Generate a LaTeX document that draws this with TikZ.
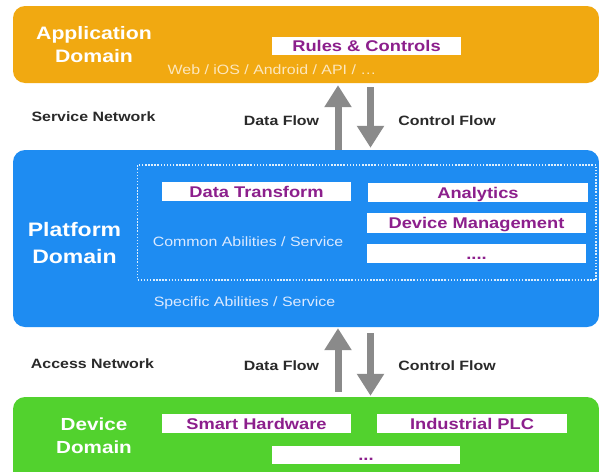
\documentclass[tikz,border=0pt]{standalone}
\usepackage{fontspec}
\setmainfont{Liberation Sans}[FakeStretch=1.18]
\usetikzlibrary{arrows.meta,calc}

\definecolor{apporange}{HTML}{F1A911}
\definecolor{platblue}{HTML}{1E8CF2}
\definecolor{devgreen}{HTML}{52D22E}
\definecolor{itempurple}{HTML}{8C1F8C}
\definecolor{flowgray}{HTML}{8A8A8A}
\definecolor{paleblue}{HTML}{DCEAFF}
\definecolor{palecream}{HTML}{FCE7BE}
\definecolor{labelgray}{HTML}{2A2A2A}

\tikzset{
  bandbox/.style={draw=none, rounded corners=12pt, inner sep=0pt},
  bandlabel/.style={text=white, align=center, inner sep=0pt},
  item/.style={fill=white, inner sep=0pt, text=itempurple,
    font=\bfseries\fontsize{15.5}{18}\selectfont, text height=11pt, text depth=0pt},
  netlabel/.style={anchor=base, text=labelgray, inner sep=0pt,
    font=\bfseries\fontsize{13.5}{16}\selectfont},
  softlabel/.style={anchor=base, inner sep=0pt, font=\fontsize{13.5}{16}\selectfont},
  flow/.style={draw=flowgray, line width=7pt,
    -{Triangle[width=26pt,length=22pt]}},
}

\begin{document}
\begin{tikzpicture}[x=1pt,y=-1pt]
\useasboundingbox (0,0) rectangle (599,471);
\clip (0,0) rectangle (599,471);
\fill[white] (0,0) rectangle (599,471);

% three domain bands
\node[bandbox, fill=apporange, minimum width=586pt, minimum height=77pt] (app) at (306,44.5) {};
\node[bandbox, fill=platblue, minimum width=586pt, minimum height=177pt] (plat) at (306,238.5) {};
\node[bandbox, fill=devgreen, minimum width=586pt, minimum height=86pt] (dev) at (306,440) {};

% application domain
\node[bandlabel, font=\bfseries\fontsize{18}{23}\selectfont] (applbl) at (94,44.5) {Application\\Domain};
\node[item, minimum width=189pt, minimum height=18pt] (rules) at (366.5,46) {Rules \& Controls};
\node[softlabel, text=palecream] (apps) at (272,74) {Web / iOS / Android / API / …};

% platform domain
\node[bandlabel, font=\bfseries\fontsize{19.5}{27.3}\selectfont] (platlbl) at (74.5,243.3) {Platform\\Domain};
\node[draw=white!85!platblue, line width=1.6pt, dash pattern=on 1.5pt off 1.6pt,
      minimum width=458.5pt, minimum height=115pt, inner sep=0pt] (common) at (366.75,222.5) {};
\node[item, minimum width=189pt, minimum height=19pt] (dtrans) at (256.5,191.5) {Data Transform};
\node[item, minimum width=220pt, minimum height=19pt] (analytics) at (478,192.5) {Analytics};
\node[item, minimum width=219pt, minimum height=20pt] (devmgmt) at (476.5,223) {Device Management};
\node[item, minimum width=219pt, minimum height=19pt] (moresvc) at (476.5,253.5) {....};
\node[softlabel, text=paleblue] (commonlbl) at (248,246) {Common Abilities / Service};
\node[softlabel, text=paleblue] (specific) at (244.5,306.7) {Specific Abilities / Service};

% device domain
\node[bandlabel, font=\bfseries\fontsize{17.5}{23.3}\selectfont] (devlbl) at (94,436) {Device\\Domain};
\node[item, minimum width=189pt, minimum height=19pt] (smart) at (256.5,423.5) {Smart Hardware};
\node[item, minimum width=190pt, minimum height=19pt] (plc) at (472,423.5) {Industrial PLC};
\node[item, minimum width=188pt, minimum height=18pt] (moredev) at (366,455) {...};

% network and flow labels
\node[netlabel] (svcnet) at (93.5,121.7) {Service Network};
\node[netlabel] (df1) at (281.5,125) {Data Flow};
\node[netlabel] (cf1) at (447,125) {Control Flow};
\node[netlabel] (accnet) at (92.5,368.3) {Access Network};
\node[netlabel] (df2) at (281.5,370.7) {Data Flow};
\node[netlabel] (cf2) at (447,370.7) {Control Flow};

% flow arrows
\coordinate (xu) at (338,0);
\coordinate (xd) at (370.5,0);
\draw[flow] (plat.north -| xu) -- ([yshift=-2pt]app.south -| xu);
\draw[flow] ([yshift=-4pt]app.south -| xd) -- ([yshift=2pt]plat.north -| xd);
\draw[flow] ([yshift=5pt]dev.north -| xu) -- ([yshift=-1pt]plat.south -| xu);
\draw[flow] ([yshift=-6pt]plat.south -| xd) -- ([yshift=1pt]dev.north -| xd);
\end{tikzpicture}
\end{document}
